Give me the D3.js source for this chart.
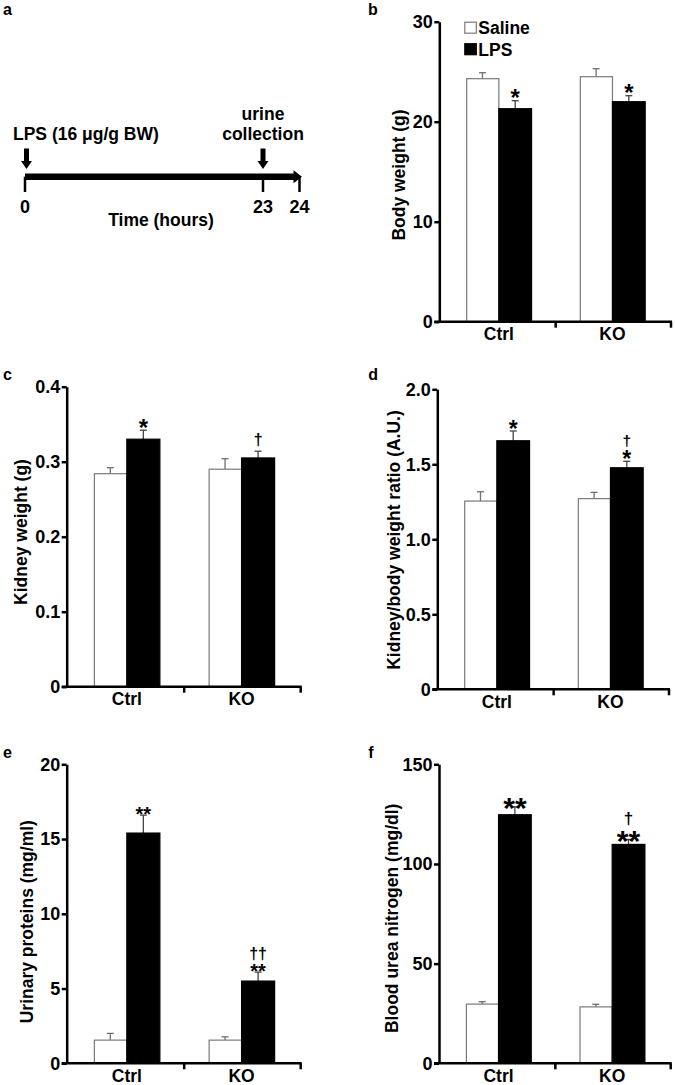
<!DOCTYPE html>
<html><head><meta charset="utf-8">
<script src="https://cdn.jsdelivr.net/npm/d3@7"></script>
<style>
body{margin:0;background:#fff}
svg{display:block}
text{font-family:"Liberation Sans",Arial,sans-serif;font-weight:bold;fill:#000}
</style>
</head><body>
<svg id="chart" width="675" height="1085"></svg>
<script>
// ---------- DATA ----------
const categories = ["Ctrl", "KO"];
const seriesNames = ["Saline", "LPS"];

// panel a: timeline
const timelineTicks = [0, 23, 24];
const timelineEventTimes = [0, 23];
const timelineEventLabels = [["LPS (16 μg/g BW)"], ["urine", "collection"]];
const timelineAxisTitle = "Time (hours)";

// panel b: body weight (g)
const bodyWeightSaline = [24.3, 24.5];
const bodyWeightSalineErr = [0.6, 0.8];
const bodyWeightLPS = [21.3, 22.0];
const bodyWeightLPSErr = [0.8, 0.6];
const bodyWeightMarks = [["*"], ["*"]];
const bodyWeightTicks = [0, 10, 20, 30];

// panel c: kidney weight (g)
const kidneyWeightSaline = [0.284, 0.290];
const kidneyWeightSalineErr = [0.008, 0.014];
const kidneyWeightLPS = [0.330, 0.305];
const kidneyWeightLPSErr = [0.012, 0.009];
const kidneyWeightMarks = [["*"], ["†"]];
const kidneyWeightTicks = [0, 0.1, 0.2, 0.3, 0.4];

// panel d: kidney/body weight ratio
const ratioSaline = [1.255, 1.271];
const ratioSalineErr = [0.062, 0.042];
const ratioLPS = [1.657, 1.477];
const ratioLPSErr = [0.065, 0.043];
const ratioMarks = [["*"], ["†", "*"]];
const ratioTicks = [0, 0.5, 1.0, 1.5, 2.0];

// panel e: urinary proteins (mg/ml)
const proteinSaline = [1.55, 1.55];
const proteinSalineErr = [0.45, 0.22];
const proteinLPS = [15.4, 5.5];
const proteinLPSErr = [1.2, 0.6];
const proteinMarks = [["**"], ["††", "**"]];
const proteinTicks = [0, 5, 10, 15, 20];

// panel f: blood urea nitrogen (mg/dl)
const bunSaline = [29.7, 28.3];
const bunSalineErr = [1.2, 1.3];
const bunLPS = [124.7, 109.8];
const bunLPSErr = [4.0, 2.5];
const bunMarks = [["**"], ["†", "**"]];
const bunTicks = [0, 50, 100, 150];

// ---------- DRAW ----------
const svg = d3.select("#chart");
const FS = 17.5;

function panelLetter(letter, x, y) {
  svg.append("text").attr("x", x).attr("y", y).attr("font-size", 16).text(letter);
}

// Panel a
(function () {
  const g = svg.append("g");
  const x = d3.scaleLinear().domain([0, 23, 24]).range([25, 263, 299.5]);
  const yLine = 176.7;
  g.append("line").attr("x1", x(0)).attr("x2", x(24) - 4).attr("y1", yLine).attr("y2", yLine)
    .attr("stroke", "#000").attr("stroke-width", 6.5);
  g.append("path").attr("d", `M${x(24) - 6},${yLine - 6.5}L${x(24) + 2.5},${yLine}L${x(24) - 6},${yLine + 6.5}Z`).attr("fill", "#000");
  timelineTicks.forEach(t => {
    g.append("line").attr("x1", x(t)).attr("x2", x(t)).attr("y1", yLine).attr("y2", 192)
      .attr("stroke", "#000").attr("stroke-width", 2.5);
    g.append("text").attr("x", x(t)).attr("y", 213).attr("text-anchor", "middle")
      .attr("font-size", 18).text(t);
  });
  g.append("text").attr("x", 161).attr("y", 226).attr("text-anchor", "middle")
    .attr("font-size", FS).text(timelineAxisTitle);
  timelineEventTimes.forEach((t, i) => {
    const ax = x(t) + (i === 0 ? 1.5 : 0);
    g.append("rect").attr("x", ax - 2.5).attr("y", 148.5).attr("width", 5).attr("height", 13.5).attr("fill", "#000");
    g.append("path").attr("d", `M${ax - 5.5},161L${ax + 5.5},161L${ax},169Z`).attr("fill", "#000");
    const lines = timelineEventLabels[i];
    lines.forEach((s, j) => {
      const t2 = g.append("text").attr("font-size", FS)
        .attr("y", 140 - (lines.length - 1 - j) * 20).text(s);
      if (i === 0) t2.attr("x", 13);
      else t2.attr("x", ax).attr("text-anchor", "middle");
    });
  });
  panelLetter("a", 3, 15);
})();

function barPanel(cfg) {
  const g = svg.append("g");
  const y = d3.scaleLinear().domain([0, cfg.max]).range([cfg.bottom, cfg.top]);
  const x0 = d3.scaleBand().domain(categories).range([cfg.left, cfg.right])
    .paddingInner(0.424).paddingOuter(0.236);
  const x1 = d3.scaleBand().domain(seriesNames).range([0, x0.bandwidth()]);

  const rows = [];
  categories.forEach((c, i) => {
    rows.push({ c, s: "Saline", v: cfg.saline[i], e: cfg.salineErr[i], marks: [] });
    rows.push({ c, s: "LPS", v: cfg.lps[i], e: cfg.lpsErr[i], marks: cfg.marks[i] });
  });

  // error bars
  rows.forEach(d => {
    const cx = x0(d.c) + x1(d.s) + x1.bandwidth() / 2;
    const col = d.s === "Saline" ? "#6f6f6f" : "#444";
    g.append("line").attr("x1", cx).attr("x2", cx).attr("y1", y(d.v)).attr("y2", y(d.v + d.e))
      .attr("stroke", col).attr("stroke-width", 1.3);
    g.append("line").attr("x1", cx - 3.5).attr("x2", cx + 3.5).attr("y1", y(d.v + d.e)).attr("y2", y(d.v + d.e))
      .attr("stroke", col).attr("stroke-width", 1.3);
  });

  // bars
  g.selectAll("rect.bar").data(rows).join("rect").attr("class", "bar")
    .attr("x", d => x0(d.c) + x1(d.s) + (d.s === "Saline" ? 0.6 : 0))
    .attr("width", d => x1.bandwidth() - (d.s === "Saline" ? 0.6 : 0))
    .attr("y", d => y(d.v))
    .attr("height", d => y(0) - y(d.v))
    .attr("fill", d => d.s === "Saline" ? "#fff" : "#000")
    .attr("stroke", d => d.s === "Saline" ? "#7a7a7a" : "#000")
    .attr("stroke-width", 1.2);

  // significance marks (one text element per bar, one tspan per line)
  const glyph = {
    "*": { bot: 0.39, top: 0.72 },
    "**": { bot: 0.39, top: 0.72 },
    "†": { bot: -0.15, top: 0.72 },
    "††": { bot: -0.15, top: 0.72 }
  };
  rows.forEach(d => {
    if (!d.marks.length) return;
    const cx = x0(d.c) + x1(d.s) + x1.bandwidth() / 2;
    const txt = g.append("text").attr("text-anchor", "middle");
    let cur = y(d.v + d.e) - cfg.markGap;
    const placed = [];
    for (let k = d.marks.length - 1; k >= 0; k--) {
      const m = d.marks[k];
      const isStar = m.indexOf("*") >= 0;
      const fs = isStar ? cfg.starSize : cfg.daggerSize;
      const gm = glyph[m];
      const base = cur + gm.bot * fs;
      placed.unshift({ m, fs, base });
      cur = base - gm.top * fs - 2.5;
    }
    placed.forEach(p => {
      txt.append("tspan").attr("x", cx).attr("y", p.base).attr("font-size", p.fs).text(p.m);
    });
  });

  // y axis
  const yAxis = d3.axisLeft(y).tickValues(cfg.ticks).tickSize(5).tickSizeOuter(0).tickPadding(1.5)
    .tickFormat(cfg.fmt);
  const ya = g.append("g").attr("transform", `translate(${cfg.left},0)`).call(yAxis);
  ya.select(".domain").attr("stroke", "#000").attr("stroke-width", 2.5);
  ya.selectAll(".tick line").attr("stroke", "#000").attr("stroke-width", 2.5);
  ya.selectAll(".tick text").attr("font-size", 18).attr("font-family", '"Liberation Sans",Arial,sans-serif')
    .attr("font-weight", "bold").attr("fill", "#000");

  // x axis
  g.append("line").attr("x1", cfg.left - 5).attr("x2", cfg.right).attr("y1", y(0)).attr("y2", y(0))
    .attr("stroke", "#000").attr("stroke-width", 2.5);
  const midTick = (x0("Ctrl") + x0.bandwidth() + x0("KO")) / 2;
  [midTick, cfg.right - 1].forEach(tx => {
    g.append("line").attr("x1", tx).attr("x2", tx).attr("y1", y(0)).attr("y2", y(0) + 6)
      .attr("stroke", "#000").attr("stroke-width", 2.5);
  });
  categories.forEach(c => {
    g.append("text").attr("x", x0(c) + x0.bandwidth() / 2).attr("y", y(0) + 18.5)
      .attr("text-anchor", "middle").attr("font-size", FS).text(c);
  });

  // y label
  g.append("text").attr("transform", `translate(${cfg.labelX},${cfg.labelY}) rotate(-90)`)
    .attr("text-anchor", "middle").attr("font-size", FS).text(cfg.title);

  panelLetter(cfg.letter, cfg.letterX, cfg.letterY);

  if (cfg.legend) {
    seriesNames.forEach((s, i) => {
      const ly = cfg.top + i * 21.5;
      g.append("rect").attr("x", cfg.left + 25.5).attr("y", ly + 0.5).attr("width", 11.5).attr("height", 11)
        .attr("fill", s === "Saline" ? "#fff" : "#000").attr("stroke", s === "Saline" ? "#7a7a7a" : "#000")
        .attr("stroke-width", 1.2);
      g.append("text").attr("x", cfg.left + 39).attr("y", ly + 12.5).attr("font-size", FS).text(s);
    });
  }
}

const fmt0 = d3.format("d");
const fmt1 = v => v === 0 ? "0" : d3.format(".1f")(v);

barPanel({ letter: "b", letterX: 368, letterY: 15, left: 439.3, right: 672, top: 21.7, bottom: 321.7,
  max: 30, ticks: bodyWeightTicks, fmt: fmt0, saline: bodyWeightSaline, salineErr: bodyWeightSalineErr,
  lps: bodyWeightLPS, lpsErr: bodyWeightLPSErr, marks: bodyWeightMarks, title: "Body weight (g)",
  labelX: 405, labelY: 175, starSize: 24, daggerSize: 16, markGap: 4, legend: true });

barPanel({ letter: "c", letterX: 3, letterY: 380, left: 66.7, right: 301.7, top: 386.7, bottom: 686.7,
  max: 0.4, ticks: kidneyWeightTicks, fmt: fmt1, saline: kidneyWeightSaline, salineErr: kidneyWeightSalineErr,
  lps: kidneyWeightLPS, lpsErr: kidneyWeightLPSErr, marks: kidneyWeightMarks, title: "Kidney weight (g)",
  labelX: 27, labelY: 532, starSize: 24, daggerSize: 16, markGap: 4 });

barPanel({ letter: "d", letterX: 368.3, letterY: 380, left: 437.3, right: 670, top: 389.3, bottom: 689.3,
  max: 2.0, ticks: ratioTicks, fmt: fmt1, saline: ratioSaline, salineErr: ratioSalineErr,
  lps: ratioLPS, lpsErr: ratioLPSErr, marks: ratioMarks, title: "Kidney/body weight ratio (A.U.)",
  labelX: 400, labelY: 540, starSize: 23, daggerSize: 15.5, markGap: 3 });

barPanel({ letter: "e", letterX: 3, letterY: 758, left: 66.7, right: 301.7, top: 764.3, bottom: 1063.3,
  max: 20, ticks: proteinTicks, fmt: fmt0, saline: proteinSaline, salineErr: proteinSalineErr,
  lps: proteinLPS, lpsErr: proteinLPSErr, marks: proteinMarks, title: "Urinary proteins (mg/ml)",
  labelX: 33.3, labelY: 921.7, starSize: 20, daggerSize: 16, markGap: 1.5 });

barPanel({ letter: "f", letterX: 368.3, letterY: 758, left: 439, right: 671.7, top: 764.3, bottom: 1063.3,
  max: 150, ticks: bunTicks, fmt: fmt0, saline: bunSaline, salineErr: bunSalineErr,
  lps: bunLPS, lpsErr: bunLPSErr, marks: bunMarks, title: "Blood urea nitrogen (mg/dl)",
  labelX: 398.3, labelY: 918.3, starSize: 30, daggerSize: 17, markGap: 0 });
</script>
</body></html>
